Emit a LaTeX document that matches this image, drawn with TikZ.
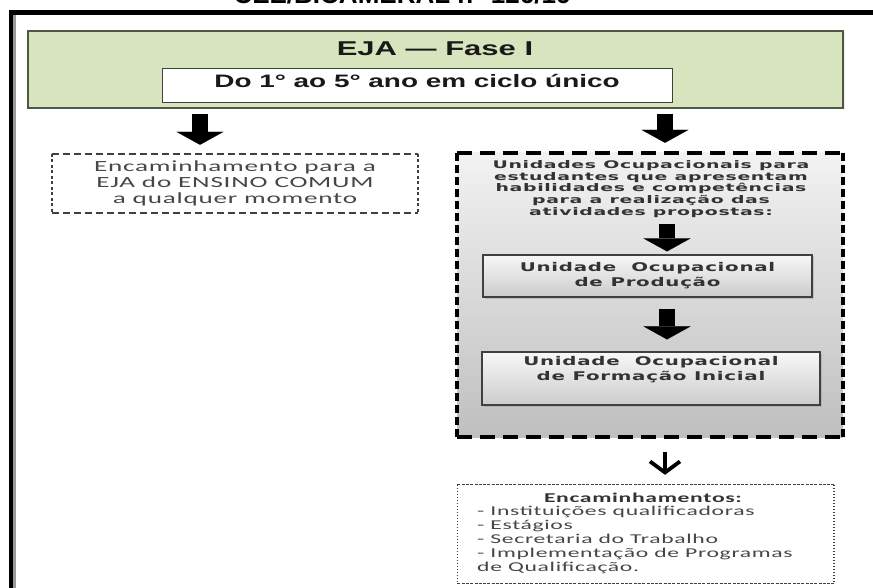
\documentclass[tikz,border=0pt]{standalone}
\usepackage{fontspec}
\setmainfont{Liberation Sans}
\newfontfamily\headfont{Liberation Sans}
\newfontfamily\titlefont[FakeStretch=1.55]{Liberation Sans}
\newfontfamily\unitfont[FakeStretch=1.65,LetterSpace=6]{DejaVu Sans}
\newfontfamily\unitnotefont[FakeStretch=1.8,LetterSpace=6]{DejaVu Sans}
\newfontfamily\notefont[FakeStretch=1.75,LetterSpace=5]{Carlito}
\usetikzlibrary{arrows.meta,shadows}

\definecolor{phasegreen}{RGB}{215,228,189}
\definecolor{phaseedge}{RGB}{78,88,68}
\definecolor{notegray}{RGB}{70,70,70}

\tikzset{
  blockarrow/.style={line width=16pt,
    -{Triangle[width=47pt,length=13pt,line width=0.1pt]}},
  thinarrow/.style={line width=3.8pt,
    -{Straight Barb[width=30pt,length=11pt]}},
  bigh/.style={line width=3.5pt, dash pattern=on 15pt off 8pt},
  bigv/.style={line width=4pt, dash pattern=on 8pt off 4pt},
  noteh/.style={draw=black!75, line width=1.5pt, dash pattern=on 7pt off 4pt},
  notev/.style={draw=black!75, line width=2pt, dash pattern=on 3pt off 2.5pt},
  referh/.style={draw=black!75, line width=1.3pt, dash pattern=on 3pt off 1.3pt},
  referv/.style={draw=black!75, line width=1.6pt, dash pattern=on 1.6pt off 1.4pt},
  unitbox/.style={draw=black!75, line width=1.2pt, top color=black!3,
    bottom color=black!20, inner sep=0pt, align=center,
    drop shadow={shadow xshift=1.5pt, shadow yshift=-1.5pt, opacity=0.3},
    text=black!80, font=\unitfont\bfseries\fontsize{12}{15}\selectfont},
}

\begin{document}
\begin{tikzpicture}[x=1pt,y=-1pt]
\clip (0,0) rectangle (873,588);
\fill[white] (0,0) rectangle (873,588);

% page frame and document reference
\draw[black!40, line width=2.5pt] (14.5,590) -- (14.5,15);
\draw[line width=4.5pt] (11,600) -- (11,12.5) -- (880,12.5);
\node[font=\headfont\bfseries\fontsize{26}{26}\selectfont, anchor=base]
  (docref) at (402,3.5) {CEE/BICAMERAL n° 126/16};

% phase header
\node[draw=phaseedge, fill=phasegreen, line width=1.3pt,
      minimum width=815pt, minimum height=77pt, inner sep=0pt,
      drop shadow={shadow xshift=1.5pt, shadow yshift=-1.5pt, opacity=0.15}]
  (phase) at (435.5,69.5) {};
\node[font=\titlefont\bfseries\fontsize{20}{20}\selectfont, text=black!90]
  (title) at (435,48.5) {EJA — Fase I};
\node[draw=black!75, fill=white, line width=1pt, minimum width=510pt,
      minimum height=34pt, inner sep=0pt, text height=13pt, text depth=9pt,
      font=\titlefont\bfseries\fontsize{18}{18}\selectfont, text=black!90]
  (cycle) at (417,86) {Do 1° ao 5° ano em ciclo único};

% referral to the common EJA
\node[minimum width=366pt, minimum height=59pt, inner sep=0pt, align=center,
      text=notegray, font=\notefont\fontsize{15.5}{16}\selectfont]
  (common) at (235,183.5)
  {Encaminhamento para a\\EJA do ENSINO COMUM\\a qualquer momento};
\draw[noteh] (common.north west) -- (common.north east);
\draw[noteh] (common.south west) -- (common.south east);
\draw[notev] (common.north west) -- (common.south west);
\draw[notev] (common.north east) -- (common.south east);

% occupational units
\node[minimum width=386pt, minimum height=284pt, inner sep=0pt,
      top color=black!5, bottom color=black!25]
  (units) at (650,295) {};
\draw[bigh] (units.north west) -- (units.north east);
\draw[bigh] (units.south west) -- (units.south east);
\draw[bigv] (units.north west) -- (units.south west);
\draw[bigv] (units.north east) -- (units.south east);
\node[align=center, text=black!80, inner sep=1pt,
      font=\unitnotefont\bfseries\fontsize{10.5}{11.8}\selectfont]
  (unitsnote) at (651,189)
  {Unidades Ocupacionais para\\estudantes que apresentam\\habilidades e competências\\para a realização das\\atividades propostas:};
\node[unitbox, minimum width=329pt, minimum height=42pt]
  (prod) at (647.5,276) {Unidade~~Ocupacional\\de Produção};
\node[unitbox, minimum width=338pt, minimum height=53pt, text depth=20pt]
  (form) at (651,378.5) {Unidade~~Ocupacional\\de Formação Inicial};

% further referrals
\node[minimum width=376pt, minimum height=98pt, inner sep=0pt, fill=white]
  (refer) at (645.5,534) {};
\draw[referh] (refer.north west) -- (refer.north east);
\draw[referh] (refer.south west) -- (refer.south east);
\draw[referv] (refer.north west) -- (refer.south west);
\draw[referv] (refer.north east) -- (refer.south east);
\node[font=\notefont\bfseries\fontsize{13.5}{14}\selectfont, text=black!80]
  (refertitle) at (643,498) {Encaminhamentos:};
\node[anchor=west, align=left, inner sep=0pt, text=notegray,
      font=\notefont\fontsize{13.5}{14}\selectfont]
  (referlist) at (477,539.5)
  {- Instituições qualificadoras\\- Estágios\\- Secretaria do Trabalho\\- Implementação de Programas\\de Qualificação.};

% arrows
\coordinate (leftx) at (200,0);
\coordinate (rightx) at (665,0);
\coordinate (innerx) at (667,0);
\draw[blockarrow, shorten <=5pt, shorten >=9pt]
  (leftx |- phase.south) -- (leftx |- common.north);
\draw[blockarrow, shorten <=5pt, shorten >=10pt]
  (rightx |- phase.south) -- (rightx |- units.north);
\draw[blockarrow, shorten <=5pt, shorten >=3pt]
  (innerx |- unitsnote.south) -- (innerx |- prod.north);
\draw[blockarrow, shorten <=11pt, shorten >=12pt]
  (innerx |- prod.south) -- (innerx |- form.north);
\draw[thinarrow, shorten <=15pt, shorten >=10pt]
  (rightx |- units.south) -- (rightx |- refer.north);
\end{tikzpicture}
\end{document}
